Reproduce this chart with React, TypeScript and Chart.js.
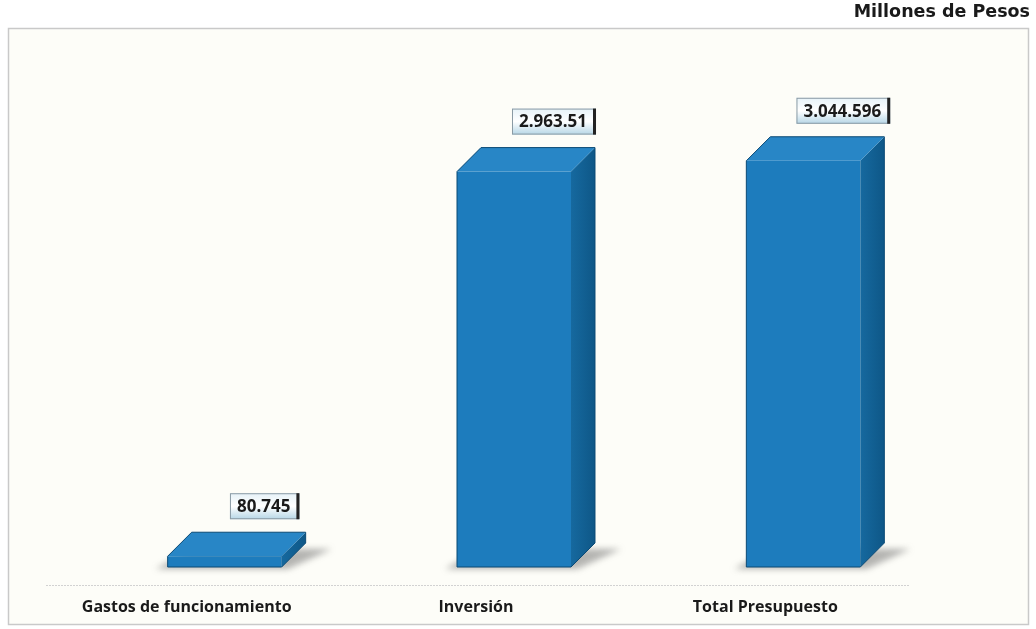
import React, { useEffect, useRef } from "react";
import { Chart, registerables } from "chart.js";

Chart.register(...registerables);

const categories = ["Gastos de funcionamiento", "Inversión", "Total Presupuesto"];
const values = [80.745, 2963.51, 3044.596];
const valueLabels = ["80.745", "2.963.51", "3.044.596"];
const unitTitle = "Millones de Pesos";

const DX = 24;
const DY = -24;

const threeD = {
  id: "threeD",
  beforeDraw(chart: any) {
    const ctx = chart.ctx;
    ctx.save();
    ctx.fillStyle = "#ffffff";
    ctx.fillRect(0, 0, chart.width, chart.height);
    ctx.fillStyle = "#fdfdf8";
    ctx.fillRect(8, 28, 1021, 597);
    ctx.strokeStyle = "#c9c9c9";
    ctx.lineWidth = 1.5;
    ctx.strokeRect(8.5, 28.5, 1020, 596);
    const area = chart.chartArea;
    ctx.strokeStyle = "#d2d2d2";
    ctx.lineWidth = 1;
    ctx.setLineDash([2, 1]);
    ctx.beginPath();
    ctx.moveTo(46, area.bottom + 18.5);
    ctx.lineTo(910, area.bottom + 18.5);
    ctx.stroke();
    ctx.setLineDash([]);
    ctx.restore();
  },
  beforeDatasetsDraw(chart: any) {
    const ctx = chart.ctx;
    const meta = chart.getDatasetMeta(0);
    ctx.save();
    meta.data.forEach((bar: any) => {
      const w = bar.width;
      const left = bar.x - w / 2;
      const right = bar.x + w / 2;
      const bottom = bar.base;
      ctx.filter = "blur(3px)";
      ctx.fillStyle = "rgba(90,90,90,0.45)";
      ctx.beginPath();
      ctx.moveTo(left - 12, bottom + 2);
      ctx.lineTo(right + 6, bottom + 2);
      ctx.lineTo(right + DX + 26, bottom - 18);
      ctx.lineTo(left + DX, bottom - 18);
      ctx.closePath();
      ctx.fill();
    });
    ctx.filter = "none";
    ctx.restore();
  },
  afterDatasetsDraw(chart: any) {
    const ctx = chart.ctx;
    const meta = chart.getDatasetMeta(0);
    ctx.save();
    meta.data.forEach((bar: any, i: number) => {
      const w = bar.width;
      const left = bar.x - w / 2;
      const right = bar.x + w / 2;
      const top = bar.y;
      const bottom = bar.base;
      const sg = ctx.createLinearGradient(right, 0, right + DX, 0);
      sg.addColorStop(0, "#16699f");
      sg.addColorStop(1, "#0e5787");
      ctx.fillStyle = sg;
      ctx.beginPath();
      ctx.moveTo(right, top);
      ctx.lineTo(right + DX, top + DY);
      ctx.lineTo(right + DX, bottom + DY);
      ctx.lineTo(right, bottom);
      ctx.closePath();
      ctx.fill();
      ctx.fillStyle = "#2886c6";
      ctx.beginPath();
      ctx.moveTo(left, top);
      ctx.lineTo(left + DX, top + DY);
      ctx.lineTo(right + DX, top + DY);
      ctx.lineTo(right, top);
      ctx.closePath();
      ctx.fill();
      ctx.strokeStyle = "#0b4a75";
      ctx.lineWidth = 1;
      ctx.beginPath();
      ctx.moveTo(left, bottom);
      ctx.lineTo(left, top);
      ctx.lineTo(left + DX, top + DY);
      ctx.lineTo(right + DX, top + DY);
      ctx.lineTo(right + DX, bottom + DY);
      ctx.lineTo(right, bottom);
      ctx.closePath();
      ctx.stroke();

      const label = valueLabels[i];
      ctx.font = "bold 17px 'Open Sans'";
      const tw = ctx.measureText(label).width;
      const bw = tw + 16;
      const bh = 26;
      const cx = bar.x + 40;
      const by = top - 37 - bh;
      const bx = cx - bw / 2;
      const g = ctx.createLinearGradient(0, by, 0, by + bh);
      g.addColorStop(0, "#e6f2f8");
      g.addColorStop(0.5, "#ffffff");
      g.addColorStop(1, "#b6d6e6");
      ctx.fillStyle = g;
      ctx.fillRect(bx, by, bw, bh);
      ctx.strokeStyle = "#8a9aa4";
      ctx.lineWidth = 1;
      ctx.strokeRect(bx + 0.5, by + 0.5, bw - 1, bh - 1);
      ctx.fillStyle = "#222";
      ctx.fillRect(bx + bw - 3, by, 3, bh);
      ctx.fillStyle = "#1a1a1a";
      ctx.textAlign = "center";
      ctx.textBaseline = "middle";
      ctx.fillText(label, cx - 1, by + bh / 2 + 1);
    });
    ctx.restore();
  },
  afterDraw(chart: any) {
    const ctx = chart.ctx;
    const xs = chart.scales.x;
    const area = chart.chartArea;
    ctx.save();
    ctx.fillStyle = "#1a1a1a";
    ctx.font = "bold 16px 'Open Sans'";
    ctx.textAlign = "center";
    ctx.textBaseline = "middle";
    categories.forEach((c, i) => {
      ctx.fillText(c, xs.getPixelForValue(i) - 38, area.bottom + 40);
    });
    ctx.font = "bold 17.5px 'DejaVu Sans'";
    ctx.textAlign = "right";
    ctx.fillText(unitTitle, 1030, 12);
    ctx.restore();
  },
};

export default function App() {
  const ref = useRef<HTMLCanvasElement>(null);
  useEffect(() => {
    if (!ref.current) return;
    const chart = new Chart(ref.current, {
      type: "bar",
      data: {
        labels: categories,
        datasets: [
          {
            data: values,
            backgroundColor: "#1d7cbd",
            borderWidth: 0,
            categoryPercentage: 1,
            barPercentage: 0.394,
          },
        ],
      },
      options: {
        responsive: false,
        animation: false,
        layout: { padding: { left: 80, right: 88, top: 100, bottom: 62 } },
        plugins: { legend: { display: false }, tooltip: { enabled: false }, title: { display: false } },
        scales: {
          x: { display: false },
          y: { display: false, min: 0, max: 3500 },
        },
      },
      plugins: [threeD],
    });
    return () => chart.destroy();
  }, []);
  return (
    <div style={{ position: "absolute", left: 0, top: 0, width: 1036, height: 629 }}>
      <canvas ref={ref} width={1036} height={629} style={{ display: "block" }} />
    </div>
  );
}
